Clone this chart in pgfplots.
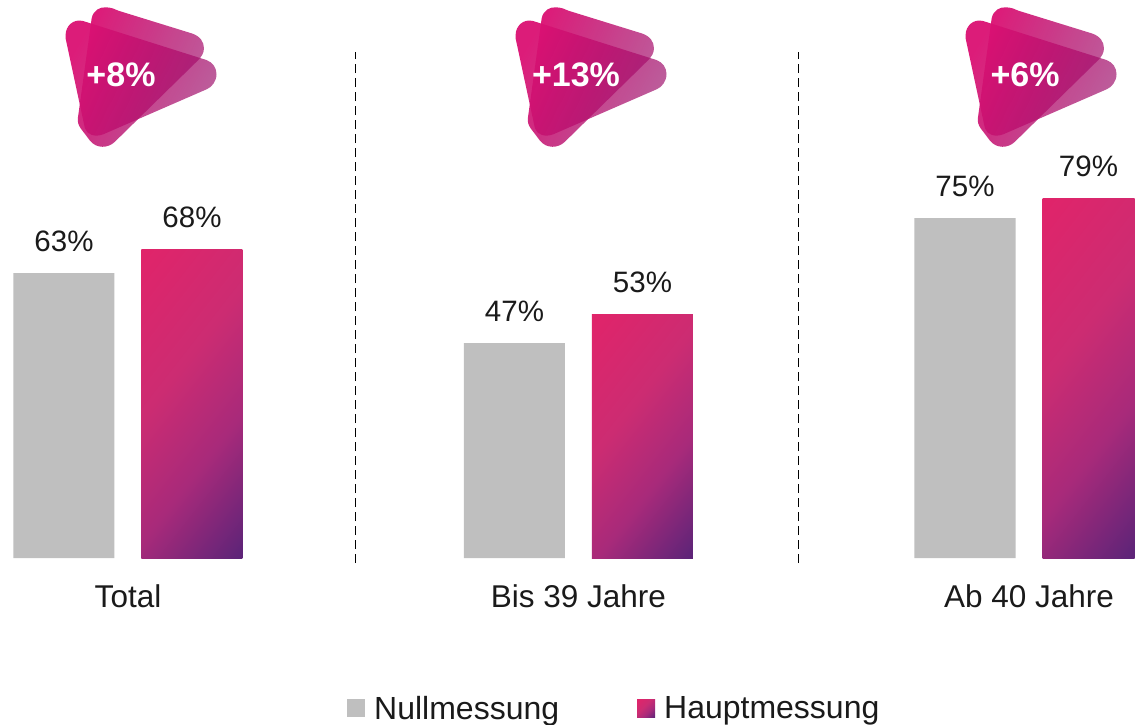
\documentclass[border=0pt]{standalone}
\usepackage{pgfplots}
\pgfplotsset{compat=1.18}
\usetikzlibrary{fadings}
\usepackage{fontspec}
\setmainfont{Liberation Sans}
\definecolor{grey}{HTML}{BFBFBF}
\definecolor{txt}{HTML}{1A1A1A}
\definecolor{gA}{HTML}{E0246A}
\definecolor{gB}{HTML}{CC2C72}
\definecolor{gC}{HTML}{A82A7A}
\definecolor{gD}{HTML}{5E2478}
\definecolor{magA}{HTML}{DA1072}
\definecolor{magB}{HTML}{9B0E6A}
\tikzfading[name=ff,left color=transparent!5,right color=transparent!34]
\pgfdeclarehorizontalshading{barg}{100bp}{color(0bp)=(gA);color(16bp)=(gA);color(42bp)=(gB);color(62bp)=(gC);color(84bp)=(gD);color(100bp)=(gD)}
\newcommand{\badge}[3]{%
\begin{scope}[shift={(#1pt,558pt)},x=0.3333pt,y=0.3333pt]
\shade[left color=magA,right color=magB,shading angle=65,path fading=ff,fading angle=-25]
 (47,-105) .. controls (47,-78) and (70,-55) .. (100,-63) -- (470,-180)
 .. controls (490,-187) and (500,-205) .. (500,-222) .. controls (500,-245) and (485,-262) .. (470,-268)
 -- (160,-403) .. controls (135,-412) and (112,-405) .. (105,-385) -- (47,-115) -- cycle;
\shade[left color=magA,right color=magB,shading angle=65,path fading=ff,fading angle=-25]
 (125,-55) .. controls (130,-30) and (150,-20) .. (170,-22) .. controls (185,-23) and (195,-27) .. (205,-32)
 -- (425,-100) .. controls (450,-108) and (462,-125) .. (462,-145) .. controls (462,-158) and (455,-170) .. (445,-180)
 -- (195,-425) .. controls (175,-445) and (140,-447) .. (120,-422) -- (92,-385) .. controls (85,-375) and (82,-365) .. (84,-352) -- cycle;
\node[white,font=\fontsize{34}{34}\selectfont\bfseries,anchor=center] at (#2,-225) {#3};
\end{scope}}
\pgfplotsset{
  vals/.style={nodes near coords={\pgfmathprintnumber[precision=0,assume math mode=true]{\pgfplotspointmeta}\%},
  every node near coord/.append style={text=txt,font=\fontsize{29.5}{30}\selectfont,yshift=18pt}},
  sep/.style={forget plot,sharp plot,black,line width=1.3pt,dash pattern=on 9pt off 5pt},
  hm/.style={vals,draw=none,shade,shading=barg,shading angle=-38}
}
\begin{document}
\begin{tikzpicture}[x=1pt,y=1pt]
\useasboundingbox (0,-166) rectangle (1135,558);
\begin{axis}[
  at={(0pt,0pt)},anchor=south west,
  scale only axis,width=1135pt,height=558pt,
  xmin=-0.2841,xmax=2.2353,ymin=0,ymax=122.64,
  ybar,clip=false,
  bar width=101pt,
  axis line style={draw=none},
  major tick length=0pt,
  ytick=\empty,
  xtick={0,1,2},
  xticklabels={Total,Bis 39 Jahre,Ab 40 Jahre},
  x tick label style={text=txt,font=\fontsize{31.5}{32}\selectfont,yshift=-23pt},
  legend style={draw=none,fill=none,at={(347pt,-160pt)},anchor=south west,legend columns=2,
    font=\fontsize{32}{33}\selectfont,text=txt,inner sep=0pt,
    /tikz/every even column/.append style={column sep=76pt}},
  legend cell align=left,
]
\addplot[vals,bar shift=-64pt,fill=grey,draw=none,
  legend image code/.code={\fill[grey] (0pt,-9pt) rectangle (18pt,9pt);\path (25pt,0pt);}]
  coordinates {(0,62.6) (1,47.25) (2,74.7)};
\addlegendentry{Nullmessung}
\addplot[hm,bar shift=64pt,
  legend image code/.code={\shade[shading=barg,shading angle=-45] (0pt,-9pt) rectangle (18pt,9pt);\path (25pt,0pt);}]
  coordinates {(0,67.9)};
\addlegendentry{Hauptmessung}
\addplot[hm,forget plot,bar shift=64pt] coordinates {(1,53.49)};
\addplot[hm,forget plot,bar width=92pt,bar shift=59.5pt] coordinates {(2,79.1)};
\addplot[sep] coordinates {(0.505,-1.1) (0.505,111.2)};
\addplot[sep] coordinates {(1.4883,-1.1) (1.4883,111.2)};
\end{axis}
\badge{50}{213}{+8\%}
\badge{500}{228}{+13\%}
\badge{950}{225}{+6\%}
\end{tikzpicture}
\end{document}
